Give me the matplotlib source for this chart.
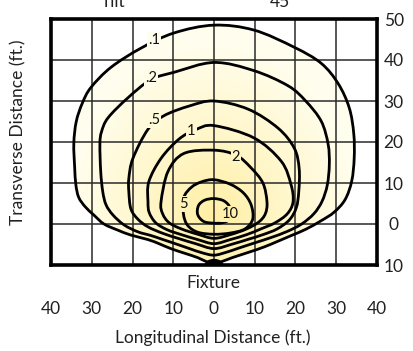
import numpy as np
import matplotlib; matplotlib.use("Agg")
import matplotlib.pyplot as plt
from matplotlib.path import Path
from matplotlib.patches import PathPatch, Ellipse

plt.rcParams['font.family'] = ['Lato', 'DejaVu Sans']

# ---- isofootcandle contours (ft), clockwise from top ----
c_01 = [(0,48.5),(9.8,47.3),(19.7,43.1),(26.3,39.2),(30.5,34.2),(33.2,28.3),(34.3,22),(34.4,16),
        (33.8,10.5),(32.2,6),(29.5,2.9),(26.3,0.8),(22.5,-1.3),(19,-2.8),(15.7,-4.2),(12.3,-5.6),
        (8.5,-6.9),(4.5,-8.2),(1.8,-9.2),(0,-9.6),(-1.8,-9.2),(-4,-8.2),(-7,-7.2),(-10.6,-6),
        (-13.5,-4.8),(-16.2,-3.8),(-20.4,-2.7),(-23.6,-1.5),(-27,0),(-29.5,2.2),(-31.6,4.2),
        (-33.2,6.5),(-33.9,9.6),(-34.2,14),(-34.4,19.7),(-33.8,25),(-32.3,29.5),(-30.2,33.3),
        (-25.3,38.2),(-17.9,42.9),(-9.8,46.6)]
c_02 = [(0,39.4),(9.8,37.4),(18.2,33.7),(22.5,30),(26.3,25.1),(28,19.5),(28.3,14.5),(27.8,9.5),
        (26.5,5.5),(24.5,2.5),(21.5,0),(18,-1.8),(14,-3.3),(10,-4.6),(6,-5.9),(3,-6.9),(0,-7.6),
        (-3,-7),(-6,-6),(-9.5,-4.8),(-12.5,-3.8),(-15.5,-2.8),(-18.7,-1.9),(-22.1,-0.2),(-24.8,2.2),
        (-26.5,4.7),(-27.3,7.9),(-27.8,12.8),(-28,19.5),(-27.6,22.5),(-26,25.9),(-21.1,30.8),
        (-15.5,35.2),(-9.8,37)]
c_05 = [(0,30),(8.4,28),(15.7,23.4),(19.7,18.5),(20.9,13.5),(20.8,7.9),(20.2,4),(18.5,1),(15.5,-1.2),
        (12,-2.6),(8.5,-3.7),(4.5,-4.9),(0,-6),(-4.5,-4.8),(-8.5,-3.6),(-12.5,-2.3),(-16.2,-0.7),
        (-18.7,1.2),(-20.4,3.7),(-20.9,7.9),(-20.9,11.1),(-19.9,16),(-16.2,23.1),(-12.3,26.4),(-6,28.8)]
c_1 = [(0,24),(9.8,21),(16.5,15.3),(18.9,9.6),(19.4,5.4),(18,2.5),(15,0.3),(11.5,-1.2),(8,-2.6),
       (4,-3.8),(0,-4.8),(-4,-3.8),(-8,-2.6),(-11.5,-1.4),(-14.3,0.3),(-15.9,2.8),(-16.2,5.4),(-16,10.3),
       (-13,16),(-8.6,20.7),(-4.5,23)]
c_2 = [(0,18),(5.4,16.8),(9,13.8),(12,10),(13,5.4),(12.6,2.5),(11,0.5),(8,-1.2),(4,-2.6),(0,-3.5),
       (-4,-2.5),(-8,-1.2),(-11,0.3),(-12.6,2.5),(-13,5.4),(-11.3,12.8),(-7.4,17.2)]
c_5 = [(0,10.8),(4,9.7),(7.2,7.6),(9.1,4.7),(9.5,1.2),(7.6,-1.2),(4,-2.2),(0,-2.5),(-4,-2),
       (-6.5,-0.3),(-7.5,2.5),(-7.4,6.5),(-5.5,9),(-3,10.3)]
c_10 = [(0,6.2),(2.5,5.6),(4,3.8),(3.8,1.2),(2,0.3),(0,0.2),(-2.5,0.6),(-4,2.3),(-3.8,4.5),(-2.3,5.8)]
contours = [c_01, c_02, c_05, c_1, c_2, c_5, c_10]

label_text = [".1", ".2", ".5", "1", "2", "5", "10"]
label_pos = [(-14.7,44.8), (-15.5,35.6), (-14.7,25.4), (-5.6,22.7), (5.4,16.3), (-7.4,4.9), (3.9,2.4)]

x_ticks = [-40,-30,-20,-10,0,10,20,30,40]
x_labels = ["40","30","20","10","0","10","20","30","40"]
y_ticks = [50,40,30,20,10,0,-10]
y_labels = ["50","40","30","20","10","0","10"]

def smooth(pts):
    p = np.array(pts, float); n = len(p)
    verts = [p[0]]; codes = [Path.MOVETO]
    for i in range(n):
        p0, p1, p2, p3 = p[i-1], p[i], p[(i+1) % n], p[(i+2) % n]
        verts += [p1 + (p2-p0)/6, p2 - (p3-p1)/6, p2]; codes += [Path.CURVE4]*3
    verts.append(p[0]); codes.append(Path.CLOSEPOLY)
    return Path(verts, codes)

c_in = np.array([255, 238, 160])/255.
c_out = np.array([255, 254, 238])/255.
def shade(x, y):
    d = np.clip(np.sqrt((x/36.)**2 + ((y-1)/44.)**2), 0, 1)**0.85
    return c_in[None]*(1-d[..., None]) + c_out[None]*d[..., None]

fig = plt.figure(figsize=(4.14, 3.51), dpi=100)
ax = fig.add_axes([51/414, 1-265/351, 326/414, 246/351])
ax.set_xlim(-40, 40); ax.set_ylim(-10, 50)

gx, gy = np.meshgrid(np.linspace(-40, 40, 400), np.linspace(-10, 50, 300))
img = ax.imshow(shade(gx, gy), extent=[-40, 40, -10, 50], origin="lower", aspect="auto",
                interpolation="bilinear", zorder=0)
img.set_clip_path(PathPatch(smooth(c_01), transform=ax.transData))

ax.set_xticks(x_ticks); ax.set_xticklabels(x_labels)
ax.set_yticks(y_ticks); ax.set_yticklabels(y_labels)
ax.grid(True, color="#2a2a2a", lw=1.1, zorder=1)
ax.set_axisbelow(False)
for c in contours:
    ax.add_patch(PathPatch(smooth(c), fc="none", ec="black", lw=2.0, zorder=3, joinstyle="round"))
ax.add_patch(Ellipse((0, -10), 4.6, 3.0, fc="black", ec="none", zorder=4, clip_on=True))

for t, (lx, ly) in zip(label_text, label_pos):
    col = shade(np.array([lx]), np.array([ly]))[0]
    ax.text(lx, ly, t, ha="center", va="center", fontsize=10.5, color="#111111", zorder=5,
            bbox=dict(boxstyle="square,pad=0.08", fc=col, ec="none"))

for s in ax.spines.values():
    s.set_linewidth(2.6); s.set_zorder(6)
ax.yaxis.tick_right()
ax.tick_params(axis="both", length=0, labelsize=12.5, labelcolor="#222222")
ax.tick_params(axis="y", pad=12)
for lab in ax.get_yticklabels():
    lab.set_ha("center")
ax.tick_params(axis="x", pad=26)

tkw = dict(ha="center", fontsize=12.5, color="#222222")
fig.text(213/414, 1-283/351, "Fixture", va="center", **tkw)
fig.text(213/414, 1-338/351, "Longitudinal Distance (ft.)", va="center", **tkw)
fig.text(18/414, 1-132/351, "Transverse Distance (ft.)", va="center", rotation=90, **tkw)
fig.text(113/414, 1-7/351, "Tilt", va="baseline", **tkw)
fig.text(280/414, 1-7/351, "45", va="baseline", **tkw)

fig.savefig("out.png", dpi=100)
